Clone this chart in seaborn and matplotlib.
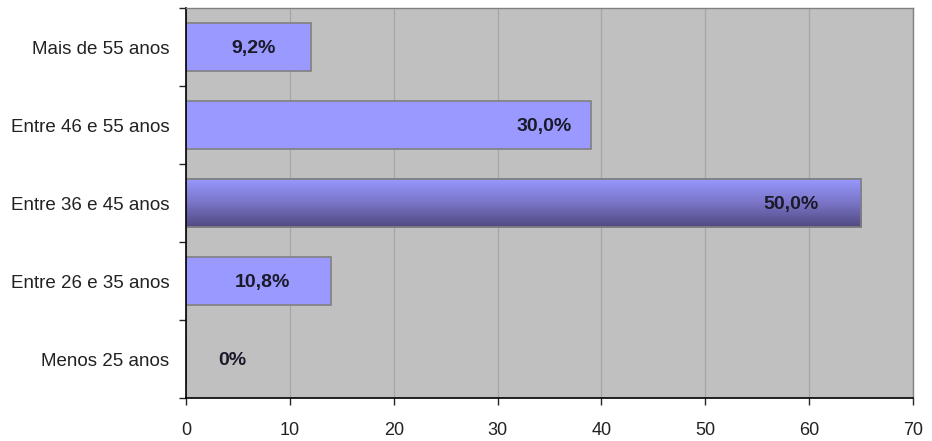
import numpy as np
import matplotlib
matplotlib.use("Agg")
import matplotlib.pyplot as plt
import seaborn as sns
import pandas as pd

# dados
faixas = ["Mais de 55 anos", "Entre 46 e 55 anos", "Entre 36 e 45 anos",
          "Entre 26 e 35 anos", "Menos 25 anos"]
valores = [12, 39, 65, 14, 0]
rotulos = ["9,2%", "30,0%", "50,0%", "10,8%", "0%"]
rotulo_x = [6.5, 34.5, 58.3, 7.4, 4.5]

df = pd.DataFrame({"faixa": faixas, "valor": valores})

sns.set_style("ticks")
plt.rcParams["font.family"] = ["Liberation Sans", "DejaVu Sans"]

fig = plt.figure(figsize=(9.32, 4.41), dpi=100)
ax = fig.add_axes([186 / 932, 1 - 398 / 441, (913 - 186) / 932, (398 - 8) / 441])
ax.set_facecolor("#C0C0C0")

sns.barplot(data=df, x="valor", y="faixa", order=faixas, color="#9999FF",
            saturation=1, width=0.62, edgecolor="#808080", linewidth=1.2, ax=ax)

# gradiente na barra maior
big = ax.patches[2]
x0, y0 = big.get_x(), big.get_y()
w, h = big.get_width(), big.get_height()
grad = np.linspace(0, 1, 100).reshape(-1, 1)
cmap = matplotlib.colors.LinearSegmentedColormap.from_list(
    "g", ["#9999FF", "#7A75C8", "#514A82"])
im = ax.imshow(grad, cmap=cmap, aspect="auto", extent=[x0, x0 + w, y0 + h, y0],
               zorder=big.get_zorder() + 0.1)
im.set_clip_path(big)
ax.add_patch(plt.Rectangle((x0, y0), w, h, fill=False, edgecolor="#808080",
                           linewidth=1.2, zorder=big.get_zorder() + 0.2))

for i, (t, px) in enumerate(zip(rotulos, rotulo_x)):
    ax.text(px, i + 0.02, t, ha="center", va="center", fontsize=14,
            fontweight="bold", color="#1a1a2a", zorder=5)

ax.set_xlim(0, 70)
ax.set_ylim(4.5, -0.5)
ax.set_xticks(range(0, 71, 10))
ax.set_yticks(np.arange(-0.5, 5, 1), minor=False)
ax.set_yticklabels([])
ax.set_yticks(range(5), minor=True)
ax.set_yticklabels(faixas, minor=True)
ax.tick_params(axis="y", which="minor", length=0, labelsize=13.5, pad=12,
               labelcolor="#222222")
ax.tick_params(axis="y", which="major", length=5, width=1, direction="out")
ax.tick_params(axis="x", length=5, width=1, labelsize=13, pad=12,
               labelcolor="#222222")
ax.grid(axis="x", color="#A6A6A6", linewidth=0.9)
ax.set_axisbelow(True)
ax.set_xlabel("")
ax.set_ylabel("")

for s in ["left", "bottom"]:
    ax.spines[s].set_color("black")
    ax.spines[s].set_linewidth(1.2)
for s in ["top", "right"]:
    ax.spines[s].set_visible(True)
    ax.spines[s].set_color("#808080")
    ax.spines[s].set_linewidth(1.0)

fig.savefig("out.png", dpi=100)
